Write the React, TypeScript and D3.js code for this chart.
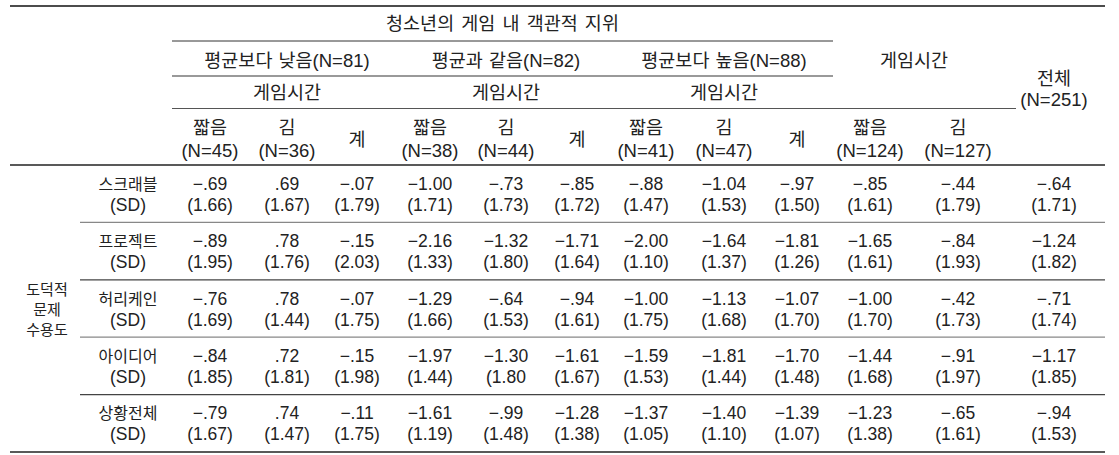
import * as d3 from 'd3';

const situations = ['스크래블', '프로젝트', '허리케인', '아이디어', '상황전체'];

const groups = ['평균보다 낮음(N=81)', '평균과 같음(N=82)', '평균보다 높음(N=88)'];
const subCols = [
  ['짧음', '(N=45)'], ['김', '(N=36)'], ['계', ''],
  ['짧음', '(N=38)'], ['김', '(N=44)'], ['계', ''],
  ['짧음', '(N=41)'], ['김', '(N=47)'], ['계', ''],
  ['짧음', '(N=124)'], ['김', '(N=127)'],
];

const means = [
  [-0.69, 0.69, -0.07, -1.0, -0.73, -0.85, -0.88, -1.04, -0.97, -0.85, -0.44, -0.64],
  [-0.89, 0.78, -0.15, -2.16, -1.32, -1.71, -2.0, -1.64, -1.81, -1.65, -0.84, -1.24],
  [-0.76, 0.78, -0.07, -1.29, -0.64, -0.94, -1.0, -1.13, -1.07, -1.0, -0.42, -0.71],
  [-0.84, 0.72, -0.15, -1.97, -1.3, -1.61, -1.59, -1.81, -1.7, -1.44, -0.91, -1.17],
  [-0.79, 0.74, -0.11, -1.61, -0.99, -1.28, -1.37, -1.4, -1.39, -1.23, -0.65, -0.94],
];

const sds = [
  ['(1.66)', '(1.67)', '(1.79)', '(1.71)', '(1.73)', '(1.72)', '(1.47)', '(1.53)', '(1.50)', '(1.61)', '(1.79)', '(1.71)'],
  ['(1.95)', '(1.76)', '(2.03)', '(1.33)', '(1.80)', '(1.64)', '(1.10)', '(1.37)', '(1.26)', '(1.61)', '(1.93)', '(1.82)'],
  ['(1.69)', '(1.44)', '(1.75)', '(1.66)', '(1.53)', '(1.61)', '(1.75)', '(1.68)', '(1.70)', '(1.70)', '(1.73)', '(1.74)'],
  ['(1.85)', '(1.81)', '(1.98)', '(1.44)', '(1.80', '(1.67)', '(1.53)', '(1.44)', '(1.48)', '(1.68)', '(1.97)', '(1.85)'],
  ['(1.67)', '(1.47)', '(1.75)', '(1.19)', '(1.48)', '(1.38)', '(1.05)', '(1.10)', '(1.07)', '(1.38)', '(1.61)', '(1.53)'],
];

// column centres of the 12 data columns (layout)
const colX = [210, 287, 357, 430, 506, 577, 646, 724, 797, 870, 958, 1054];

const W = 1119;
const H = 455;
const left = 10;
const right = 1105;
const headTop = 6;
const headBottom = 165;
const bodyBottom = 452;

const KR = '"Noto Sans CJK KR", "Noto Sans", sans-serif';
const NUM = '"Liberation Sans", Arial, sans-serif';
const ink = '#222';
const headKr = 18.5;
const headNum = 18.5;
const krSize = 16;
const numSize = 17.5;

function fmt(v: number) {
  const s = Math.abs(v).toFixed(2);
  const t = Math.abs(v) < 1 ? s.slice(1) : s;
  return (v < 0 ? '\u2212' : '') + t;
}

function Mixed({ text }: { text: string }) {
  const i = text.indexOf('(');
  if (i < 0) return <>{text}</>;
  return (
    <>
      <tspan fontFamily={KR} fontSize={headKr}>{text.slice(0, i)}</tspan>
      <tspan fontFamily={NUM} fontSize={headNum}>{text.slice(i)}</tspan>
    </>
  );
}

export default function App() {
  const y = d3.scaleBand<string>().domain(situations).range([headBottom, bodyBottom]);
  const x = d3.scaleOrdinal<number, number>().domain(d3.range(12)).range(colX);
  const groupX = (g: number) => x(g * 3 + 1);
  const gStart = 172;
  const gEnd = 833;
  const midRow = y('허리케인')! + y.bandwidth() / 2;

  return (
    <svg width={W} height={H} style={{ position: 'absolute', left: 0, top: 0, background: '#fff' }}>
      <rect width={W} height={H} fill="#fff" />
      {/* rules */}
      <line x1={left} x2={right} y1={headTop} y2={headTop} stroke="#111" strokeWidth={1.5} />
      <line x1={gStart} x2={gEnd} y1={41} y2={41} stroke="#333" strokeWidth={1} />
      <line x1={gStart} x2={gEnd} y1={76} y2={76} stroke="#777" strokeWidth={1.3} />
      <line x1={gStart} x2={1016} y1={108.5} y2={108.5} stroke="#555" strokeWidth={1} />
      <line x1={left} x2={right} y1={headBottom} y2={headBottom} stroke="#222" strokeWidth={1.3} />
      {situations.slice(1).map((s, i) => (
        <line key={s} x1={80} x2={right} y1={y(s)!} y2={y(s)!} stroke={i % 2 === 0 ? '#888' : '#444'} strokeWidth={1.2} />
      ))}
      <line x1={left} x2={right} y1={bodyBottom} y2={bodyBottom} stroke="#222" strokeWidth={1.5} />

      <g fontFamily={KR} fontSize={headKr} fill={ink} textAnchor="middle">
        <text x={(gStart + gEnd) / 2} y={30} style={{ wordSpacing: '3px' }}>청소년의 게임 내 객관적 지위</text>
        {groups.map((g, i) => (
          <text key={g} x={groupX(i)} y={67} style={{ wordSpacing: '2px' }}><Mixed text={g} /></text>
        ))}
        {groups.map((g, i) => (
          <text key={g + 't'} x={groupX(i)} y={99}>게임시간</text>
        ))}
        <text x={(x(9) + x(10)) / 2} y={67}>게임시간</text>
        <text x={x(11)} y={85}>전체</text>
        <text x={x(11)} y={106} fontFamily={NUM} fontSize={headNum}>(N=251)</text>
        {subCols.map((c, i) =>
          c[1] ? (
            <g key={i}>
              <text x={x(i)} y={134}>{c[0]}</text>
              <text x={x(i)} y={157} fontFamily={NUM} fontSize={headNum}>{c[1]}</text>
            </g>
          ) : (
            <text key={i} x={x(i)} y={146}>{c[0]}</text>
          )
        )}
        <g fontSize={15}>
          <text x={47} y={midRow - 14}>도덕적</text>
          <text x={47} y={midRow + 6}>문제</text>
          <text x={47} y={midRow + 26}>수용도</text>
        </g>
      </g>

      {situations.map((s, r) => {
        const cy = y(s)! + y.bandwidth() / 2;
        return (
          <g key={s} textAnchor="middle" fontSize={numSize} fill={ink}>
            <text x={128} y={cy - 4} fontFamily={KR} fontSize={krSize}>{s}</text>
            <text x={128} y={cy + 17} fontFamily={NUM}>(SD)</text>
            {means[r].map((v, c) => (
              <text key={'m' + c} x={x(c)} y={cy - 4} fontFamily={NUM}>{fmt(v)}</text>
            ))}
            {sds[r].map((v, c) => (
              <text key={'s' + c} x={x(c)} y={cy + 17} fontFamily={NUM}>{v}</text>
            ))}
          </g>
        );
      })}
    </svg>
  );
}
